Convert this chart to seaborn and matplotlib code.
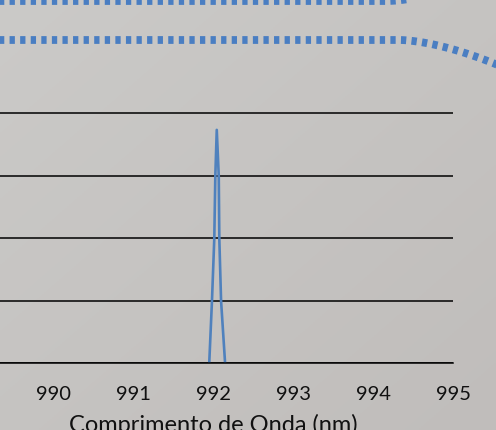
import numpy as np
import pandas as pd
import matplotlib
matplotlib.use("Agg")
import matplotlib.pyplot as plt
from matplotlib.lines import Line2D
import seaborn as sns

# Data
wavelength = [991.953, 991.987, 992.016, 992.029, 992.047, 992.072, 992.079, 992.101, 992.151]
intensity = [0.0, 0.198, 0.397, 0.598, 0.746, 0.598, 0.397, 0.198, 0.0]
x_ticks = [990, 991, 992, 993, 994, 995]
x_range = [989, 995]
y_ticks = [0.0, 0.2, 0.4, 0.6, 0.8]
x_label = "Comprimento de Onda (nm)"

df = pd.DataFrame({"wl": wavelength, "I": intensity})

sns.set_theme(style="white")
plt.rcParams["font.family"] = ["Lato", "DejaVu Sans"]

W, H = 496, 431
fig = plt.figure(figsize=(W / 100, H / 100), dpi=100)

# gradient background
bg = fig.add_axes([0, 0, 1, 1], zorder=-10)
gx, gy = np.meshgrid(np.linspace(0, 1, 200), np.linspace(0, 1, 200))
t = (gx + gy) / 2
c0 = np.array([0xCB, 0xCA, 0xC8]) / 255
c1 = np.array([0xC0, 0xBD, 0xBB]) / 255
img = c0[None, None, :] * (1 - t[..., None]) + c1[None, None, :] * t[..., None]
bg.imshow(img, extent=[0, 1, 0, 1], aspect="auto", origin="upper")
bg.set_axis_off()

# decorative dotted lines (slide ornament)
def px(xp, yp):
    return np.asarray(xp) / W, 1 - np.asarray(yp) / H

blue = "#4A7EC2"
s = np.linspace(0, 1, 40)
# top line: flat then curving up
xa = np.concatenate([np.linspace(-5, 385, 40), 385 + 50 * s])
ya = np.concatenate([np.full(40, 2.0), 2.0 - 9 * s ** 2])
fx, fy = px(xa, ya)
fig.add_artist(Line2D(fx, fy, color=blue, lw=5.6, linestyle=(0, (0.68, 0.68)),
                      solid_capstyle="butt", dash_capstyle="butt"))
# second line: flat then curving down
xb = np.concatenate([np.linspace(-5, 400, 40), 400 + 105 * s])
yb = np.concatenate([np.full(40, 41.0), 41.0 + 28 * s ** 1.6])
fx, fy = px(xb, yb)
fig.add_artist(Line2D(fx, fy, color=blue, lw=5.6, linestyle=(0, (0.68, 0.68)),
                      solid_capstyle="butt", dash_capstyle="butt"))

# main axes
left = -27 / W
right = 453 / W
bottom = 1 - 364 / H
top = 1 - 107.75 / H
ax = fig.add_axes([left, bottom, right - left, top - bottom])
ax.set_facecolor("none")

sns.lineplot(data=df, x="wl", y="I", ax=ax, color="#4F81BD", lw=1.9,
             estimator=None, sort=False)

ax.set_xlim(x_range[0], x_range[1])
ax.set_ylim(y_ticks[0], 0.82)
ax.set_xticks(x_ticks)
ax.set_xticklabels([str(v) for v in x_ticks])
ax.set_yticks(y_ticks)
ax.set_yticklabels([])
ax.grid(axis="y", color="black", lw=1.1)
ax.grid(axis="x", visible=False)
for sp in ["left", "right", "top"]:
    ax.spines[sp].set_visible(False)
ax.spines["bottom"].set_color("black")
ax.spines["bottom"].set_linewidth(1.1)
ax.tick_params(axis="x", length=0, pad=16, labelsize=14.5, labelcolor="#111111")
ax.tick_params(axis="y", length=0)
ax.set_xlabel(x_label, fontsize=17, color="#111111", labelpad=8)
ax.set_ylabel("")

fig.savefig("out.png", dpi=100)
